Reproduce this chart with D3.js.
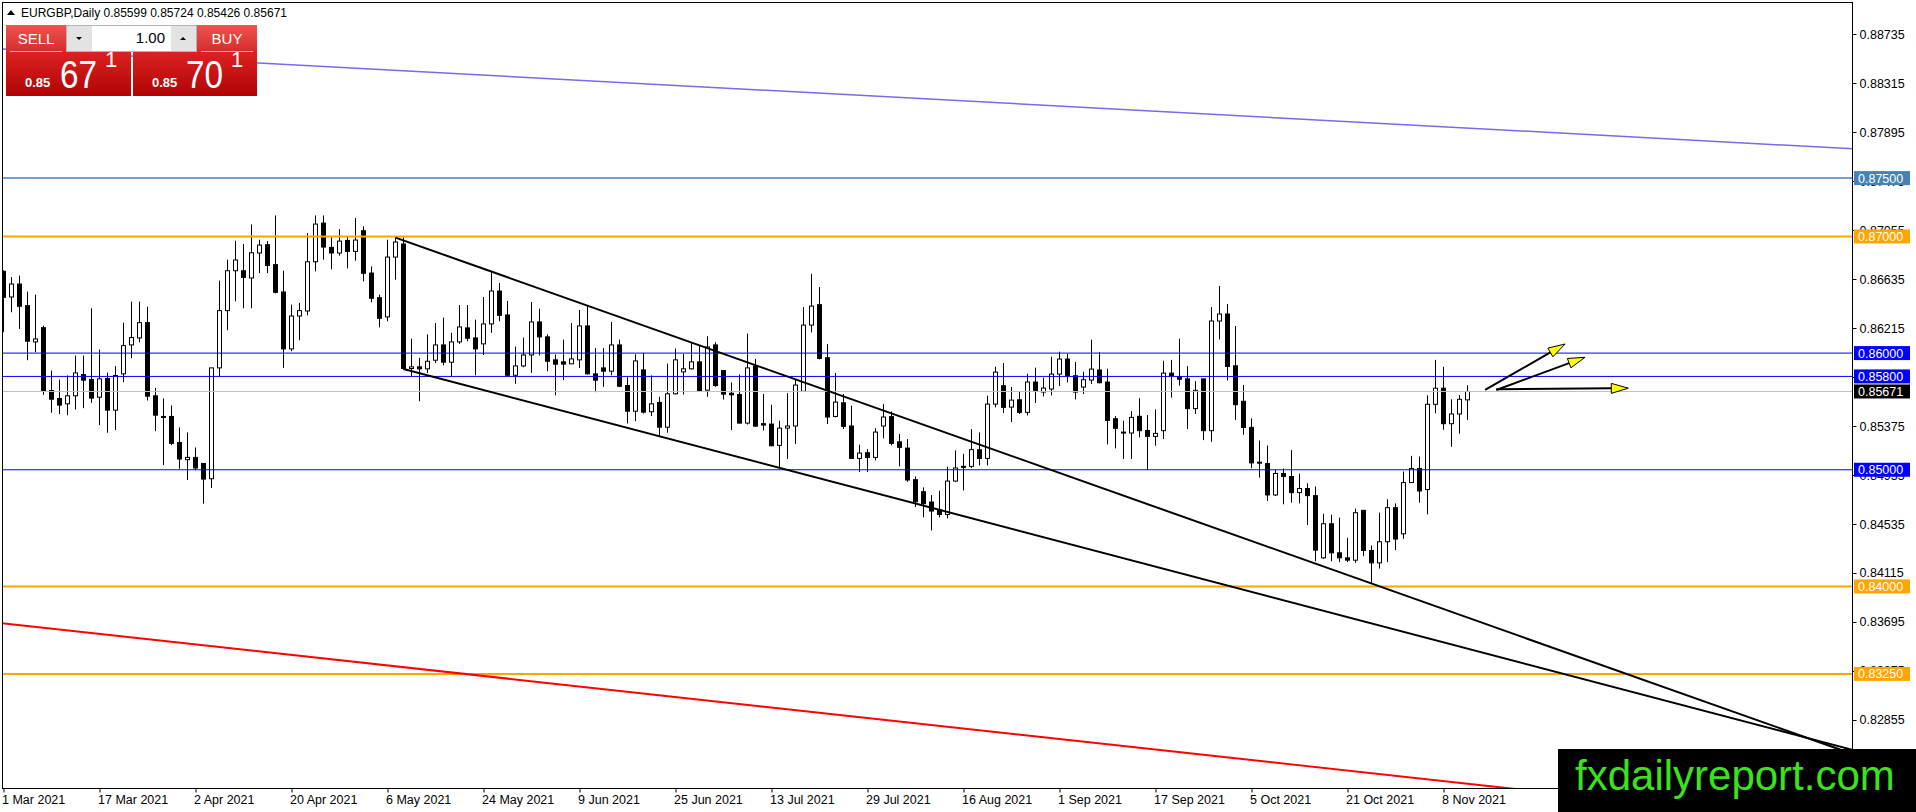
<!DOCTYPE html>
<html>
<head>
<meta charset="utf-8">
<script src="https://cdn.jsdelivr.net/npm/d3@7"></script>
<style>
  html, body { margin: 0; padding: 0; background: #fff; overflow: hidden; }
  svg { display: block; font-family: "Liberation Sans", Arial, sans-serif; }
</style>
</head>
<body>
<div id="chart"></div>
<script>
// EURGBP daily, 1 Mar 2021 .. 11 Nov 2021 (bar index 0 = 1 Mar)
const opens = [0.86701,0.86481,0.86592,0.86407,0.86096,0.86218,0.85679,0.85611,0.85565,0.85634,0.85816,0.85773,0.85622,0.85782,0.85511,0.85822,0.86070,0.86130,0.86261,0.85634,
  0.85457,0.85457,0.85234,0.85086,0.85106,0.85054,0.84923,0.85873,0.86364,0.86706,0.86706,0.86644,0.86858,0.86929,0.86758,0.86524,0.86036,0.86318,0.86361,0.86783,
  0.87114,0.86906,0.86858,0.86966,0.86872,0.87049,0.86686,0.86475,0.86310,0.86823,0.86935,0.85868,0.85882,0.85865,0.85939,0.86070,0.85922,0.86096,0.86216,0.86130,
  0.86079,0.86250,0.86532,0.86327,0.85810,0.85890,0.85984,0.86267,0.86139,0.85942,0.85925,0.85908,0.85942,0.86233,0.85822,0.85873,0.85845,0.86070,0.85722,0.85502,
  0.85856,0.85497,0.85577,0.85365,0.85651,0.85839,0.85865,0.85925,0.85682,0.86070,0.85850,0.85656,0.85645,0.85400,0.85888,0.85395,0.85392,0.85209,0.85357,0.85375,
  0.85672,0.86240,0.86415,0.85960,0.85457,0.85574,0.85375,0.85097,0.85146,0.85106,0.85375,0.85455,0.85240,0.85186,0.84915,0.84812,0.84723,0.84655,0.84617,0.84903,
  0.85029,0.85029,0.85172,0.85097,0.85563,0.85720,0.85537,0.85600,0.85492,0.85752,0.85666,0.85692,0.85820,0.85949,0.85806,0.85709,0.85769,0.85855,0.85752,0.85437,
  0.85323,0.85315,0.85458,0.85337,0.85286,0.85335,0.85828,0.85799,0.85779,0.85524,0.85779,0.85335,0.86275,0.86335,0.85891,0.85587,0.85363,0.85065,0.85053,0.84784,
  0.84968,0.84942,0.84804,0.84839,0.84778,0.84245,0.84537,0.84288,0.84245,0.84225,0.84652,0.84308,0.84202,0.84383,0.84675,0.84451,0.84890,0.85011,0.84830,0.85561,
  0.85699,0.85395,0.85478,0.85599];
const highs = [0.86710,0.86652,0.86664,0.86527,0.86501,0.86236,0.85850,0.85773,0.85808,0.85979,0.85979,0.86384,0.86030,0.85833,0.85888,0.86261,0.86441,0.86441,0.86398,0.85702,
  0.85611,0.85551,0.85363,0.85320,0.85191,0.85054,0.85873,0.86621,0.86801,0.86963,0.86935,0.87103,0.86972,0.86960,0.87180,0.86706,0.86415,0.86430,0.87029,0.87180,
  0.87180,0.86992,0.87063,0.87000,0.87157,0.87086,0.86743,0.86501,0.86972,0.86992,0.86992,0.86124,0.85959,0.86159,0.86258,0.86304,0.86173,0.86412,0.86412,0.86287,
  0.86481,0.86701,0.86601,0.86447,0.86056,0.86133,0.86438,0.86381,0.86161,0.85987,0.86116,0.86258,0.86370,0.86407,0.86044,0.86044,0.86267,0.86116,0.85793,0.85990,
  0.86002,0.85808,0.85625,0.85910,0.86039,0.85993,0.86087,0.86067,0.86144,0.86093,0.85850,0.85748,0.85816,0.86167,0.85950,0.85649,0.85557,0.85420,0.85657,0.85777,
  0.86395,0.86680,0.86566,0.86077,0.85829,0.85649,0.85549,0.85215,0.85177,0.85357,0.85563,0.85500,0.85306,0.85263,0.84943,0.84849,0.84783,0.84820,0.85026,0.85166,
  0.85137,0.85349,0.85320,0.85635,0.85883,0.85915,0.85709,0.85675,0.85823,0.85875,0.85789,0.85969,0.86012,0.85992,0.85923,0.85840,0.86115,0.86009,0.85866,0.85460,
  0.85420,0.85503,0.85613,0.85469,0.85518,0.85934,0.85942,0.86123,0.85888,0.85759,0.85779,0.86395,0.86576,0.86421,0.86232,0.85727,0.85441,0.85251,0.85208,0.84999,
  0.85011,0.85168,0.84968,0.84884,0.84856,0.84623,0.84615,0.84589,0.84417,0.84667,0.84652,0.84351,0.84632,0.84747,0.84712,0.84985,0.85119,0.85114,0.85638,0.85942,
  0.85882,0.85604,0.85641,0.85724];
const lows = [0.86179,0.86350,0.86207,0.85939,0.86007,0.85642,0.85488,0.85477,0.85468,0.85517,0.85528,0.85574,0.85383,0.85317,0.85340,0.85751,0.85956,0.86093,0.85594,0.85331,
  0.85040,0.85211,0.85009,0.84912,0.84995,0.84709,0.84843,0.85802,0.86196,0.86444,0.86384,0.86384,0.86686,0.86686,0.86512,0.85873,0.86016,0.86110,0.86324,0.86701,
  0.86801,0.86718,0.86835,0.86726,0.86792,0.86615,0.86435,0.86221,0.86273,0.86629,0.85859,0.85802,0.85588,0.85830,0.85916,0.85896,0.85802,0.86079,0.86102,0.85810,
  0.85984,0.86173,0.86273,0.85802,0.85736,0.85879,0.85830,0.85979,0.85845,0.85639,0.85768,0.85908,0.85873,0.85816,0.85665,0.85711,0.85810,0.85708,0.85397,0.85417,
  0.85482,0.85460,0.85288,0.85317,0.85645,0.85645,0.85859,0.85668,0.85625,0.85711,0.85602,0.85340,0.85397,0.85388,0.85368,0.85337,0.85200,0.85015,0.85092,0.85220,
  0.85666,0.86177,0.85946,0.85392,0.85449,0.85349,0.85092,0.84980,0.84980,0.85080,0.85269,0.85209,0.85029,0.84897,0.84680,0.84592,0.84480,0.84592,0.84583,0.84897,
  0.84823,0.85015,0.85037,0.85037,0.85535,0.85486,0.85409,0.85477,0.85466,0.85572,0.85629,0.85637,0.85717,0.85749,0.85603,0.85649,0.85735,0.85740,0.85217,0.85183,
  0.85092,0.85092,0.85277,0.84999,0.85206,0.85263,0.85618,0.85722,0.85349,0.85478,0.85254,0.85240,0.86117,0.85765,0.85426,0.85300,0.85013,0.84933,0.84732,0.84775,
  0.84704,0.84718,0.84712,0.84526,0.84216,0.84236,0.84216,0.84208,0.84208,0.84202,0.84259,0.84030,0.84153,0.84208,0.84311,0.84408,0.84890,0.84718,0.84618,0.85484,
  0.85343,0.85197,0.85309,0.85426];
const closes = [0.86478,0.86592,0.86401,0.86102,0.86121,0.85674,0.85605,0.85554,0.85634,0.85830,0.85768,0.85614,0.85779,0.85511,0.85808,0.86064,0.86133,0.86261,0.85631,0.85468,
  0.85454,0.85226,0.85092,0.85106,0.85015,0.84920,0.85873,0.86364,0.86706,0.86798,0.86649,0.86860,0.86926,0.86752,0.86521,0.86036,0.86318,0.86364,0.86783,0.87106,
  0.86909,0.86858,0.86960,0.86872,0.86969,0.86684,0.86470,0.86298,0.86823,0.86952,0.85868,0.85882,0.85865,0.85930,0.86070,0.85922,0.86096,0.86224,0.86127,0.86036,
  0.86250,0.86532,0.86324,0.85810,0.85890,0.85984,0.86267,0.86139,0.85930,0.85905,0.85905,0.85950,0.86233,0.85822,0.85768,0.85845,0.86070,0.85716,0.85502,0.85933,
  0.85494,0.85565,0.85365,0.85651,0.85942,0.85865,0.85925,0.85679,0.86053,0.85722,0.85648,0.85642,0.85400,0.85873,0.85374,0.85383,0.85206,0.85357,0.85375,0.85726,
  0.86240,0.86403,0.85955,0.85452,0.85580,0.85372,0.85097,0.85143,0.85106,0.85323,0.85452,0.85226,0.85192,0.84912,0.84726,0.84709,0.84646,0.84617,0.84903,0.85015,
  0.85023,0.85172,0.85097,0.85563,0.85837,0.85535,0.85597,0.85492,0.85752,0.85680,0.85700,0.85820,0.85949,0.85809,0.85666,0.85772,0.85863,0.85746,0.85423,0.85355,
  0.85317,0.85449,0.85335,0.85286,0.85312,0.85828,0.85808,0.85776,0.85524,0.85681,0.85335,0.86275,0.86335,0.85885,0.85558,0.85363,0.85059,0.85059,0.84784,0.84968,
  0.84942,0.84804,0.84839,0.84778,0.84311,0.84537,0.84288,0.84245,0.84225,0.84632,0.84308,0.84202,0.84383,0.84675,0.84406,0.84890,0.85011,0.84818,0.85561,0.85699,
  0.85395,0.85478,0.85604,0.85671];

const xTickBars = [0, 12, 24, 36, 48, 60, 72, 84, 96, 108, 120, 132, 144, 156, 168, 180];
const xTickLabels = ["1 Mar 2021", "17 Mar 2021", "2 Apr 2021", "20 Apr 2021", "6 May 2021", "24 May 2021",
  "9 Jun 2021", "25 Jun 2021", "13 Jul 2021", "29 Jul 2021", "16 Aug 2021", "1 Sep 2021",
  "17 Sep 2021", "5 Oct 2021", "21 Oct 2021", "8 Nov 2021"];
const yTickValues = [0.88735, 0.88315, 0.87895, 0.87475, 0.87055, 0.86635, 0.86215, 0.85795,
  0.85375, 0.84955, 0.84535, 0.84115, 0.83695, 0.83275, 0.82855, 0.82435];

// horizontal levels and their kind
const levelValues = [0.87500, 0.87000, 0.86000, 0.85800, 0.85000, 0.84000, 0.83250];
const levelKinds = ["steel", "orange", "blue", "blue", "blue", "orange", "orange"];
const bidPrice = 0.85671;

// trend lines as [bar, price] anchor pairs
const channelUpper = [[49, 0.86990], [180, 0.83806]];
const channelLower = [[50, 0.85864], [180, 0.83521]];
const purpleLine = [[0, 0.88605], [180, 0.87940]];
const redLine = [[0, 0.83683], [180, 0.82331]];
const arrowLines = [
  [[185.2, 0.85684], [195.2, 0.86078]],
  [[186.6, 0.85684], [197.7, 0.85964]],
  [[186.6, 0.85690], [203.1, 0.85699]]
];

const headerText = "EURGBP,Daily  0.85599 0.85724 0.85426 0.85671";

const W = 1916, H = 812;
const plotL = 2.5, plotR = 1852.5, plotT = 2.5, plotB = 788.5;

const svg = d3.select("#chart").append("svg")
    .attr("width", W)
    .attr("height", H);

const x = d3.scaleLinear()
    .domain([0, 183])
    .range([3.5, 3.5 + 8 * 183]);

const y = d3.scaleLinear()
    .domain([0.82272, 0.89001])
    .range([788, 3]);

const defs = svg.append("defs");
defs.append("clipPath").attr("id", "plot")
    .append("rect")
    .attr("x", plotL).attr("y", plotT)
    .attr("width", plotR - plotL).attr("height", plotB - plotT);

const gradTop = defs.append("linearGradient").attr("id", "redTop")
    .attr("x1", 0).attr("y1", 0).attr("x2", 0).attr("y2", 1);
gradTop.append("stop").attr("offset", "0%").attr("stop-color", "#ee5550");
gradTop.append("stop").attr("offset", "100%").attr("stop-color", "#d42a2a");
const gradLow = defs.append("linearGradient").attr("id", "redLow")
    .attr("x1", 0).attr("y1", 0).attr("x2", 0).attr("y2", 1);
gradLow.append("stop").attr("offset", "0%").attr("stop-color", "#dc2222");
gradLow.append("stop").attr("offset", "100%").attr("stop-color", "#b00404");

// axes
const yAxis = svg.append("g")
    .attr("transform", `translate(${plotR},0)`)
    .call(d3.axisRight(y).tickValues(yTickValues).tickSize(4).tickPadding(3)
        .tickFormat(d3.format(".5f")));
yAxis.select(".domain").remove();
yAxis.selectAll("text").style("font-size", "12.5px").attr("fill", "#000");

const xAxis = svg.append("g")
    .attr("transform", `translate(0,${plotB})`)
    .call(d3.axisBottom(x).tickValues(xTickBars).tickSize(4).tickPadding(3)
        .tickFormat((d, i) => xTickLabels[i]));
xAxis.select(".domain").remove();
xAxis.selectAll("text")
    .style("font-size", "12.5px")
    .attr("text-anchor", "start")
    .attr("dx", -2)
    .attr("fill", "#000");

const plot = svg.append("g").attr("clip-path", "url(#plot)");

// candles
const bars = d3.range(opens.length);
plot.selectAll(".wick")
    .data(bars)
    .enter().append("line")
    .attr("class", "wick")
    .attr("x1", i => x(i)).attr("x2", i => x(i))
    .attr("y1", i => y(highs[i])).attr("y2", i => y(lows[i]))
    .attr("stroke", "#000")
    .attr("stroke-width", 1);

plot.selectAll(".body")
    .data(bars)
    .enter().append("rect")
    .attr("class", "body")
    .attr("x", i => x(i) - 2)
    .attr("width", 4)
    .attr("y", i => y(Math.max(opens[i], closes[i])))
    .attr("height", i => Math.max(1, Math.abs(y(opens[i]) - y(closes[i]))))
    .attr("fill", i => closes[i] >= opens[i] ? "#fff" : "#000")
    .attr("stroke", "#000")
    .attr("stroke-width", 1);

// horizontal levels
const levelColor = { steel: "#4682b4", orange: "#ffa500", blue: "#0000ff" };
const levelWidth = { steel: 1.5, orange: 2, blue: 1 };

plot.append("line")
    .attr("x1", plotL).attr("x2", plotR)
    .attr("y1", y(bidPrice)).attr("y2", y(bidPrice))
    .attr("stroke", "#c0c0c0")
    .attr("stroke-width", 1);

levelValues.forEach((v, i) => {
    plot.append("line")
        .attr("x1", plotL).attr("x2", plotR)
        .attr("y1", y(v)).attr("y2", y(v))
        .attr("stroke", levelColor[levelKinds[i]])
        .attr("stroke-width", levelWidth[levelKinds[i]]);
});

// straight lines through two anchors, extended
function extend(pts, fromStart) {
    const x0 = x(pts[0][0]), y0 = y(pts[0][1]);
    const x1 = x(pts[1][0]), y1 = y(pts[1][1]);
    const k = (y1 - y0) / (x1 - x0);
    const xa = fromStart ? x0 : plotL - 5;
    const xb = plotR + 5;
    return [[xa, y0 + k * (xa - x0)], [xb, y0 + k * (xb - x0)]];
}
const lineGen = d3.line();

plot.append("path")
    .attr("d", lineGen(extend(purpleLine, false)))
    .attr("fill", "none").attr("stroke", "#7b68ee").attr("stroke-width", 1.5);
plot.append("path")
    .attr("d", lineGen(extend(redLine, false)))
    .attr("fill", "none").attr("stroke", "#ff0000").attr("stroke-width", 2);
[channelUpper, channelLower].forEach(c => {
    plot.append("path")
        .attr("d", lineGen(extend(c, true)))
        .attr("fill", "none").attr("stroke", "#000").attr("stroke-width", 2);
});

// arrows
arrowLines.forEach(a => {
    const x0 = x(a[0][0]), y0 = y(a[0][1]);
    const x1 = x(a[1][0]), y1 = y(a[1][1]);
    const ang = Math.atan2(y1 - y0, x1 - x0);
    const len = 17, half = 5;
    const bx = x1 - len * Math.cos(ang), by = y1 - len * Math.sin(ang);
    plot.append("line")
        .attr("x1", x0).attr("y1", y0).attr("x2", bx).attr("y2", by)
        .attr("stroke", "#000").attr("stroke-width", 2);
    plot.append("polygon")
        .attr("points", [
            [x1, y1],
            [bx + half * Math.sin(ang), by - half * Math.cos(ang)],
            [bx - half * Math.sin(ang), by + half * Math.cos(ang)]
        ].map(p => p.join(",")).join(" "))
        .attr("fill", "#ffff00")
        .attr("stroke", "#000")
        .attr("stroke-width", 1);
});

// frame
svg.append("rect")
    .attr("x", plotL).attr("y", plotT)
    .attr("width", plotR - plotL).attr("height", plotB - plotT)
    .attr("fill", "none").attr("stroke", "#000").attr("stroke-width", 1);

// price labels on the right axis
function priceTag(v, bg) {
    svg.append("rect")
        .attr("x", 1854).attr("y", y(v) - 7)
        .attr("width", 56).attr("height", 14)
        .attr("fill", bg);
    svg.append("text")
        .attr("x", 1858).attr("y", y(v) + 4.5)
        .style("font-size", "12.5px")
        .attr("fill", "#fff")
        .text(d3.format(".5f")(v));
}
levelValues.forEach((v, i) => priceTag(v, levelColor[levelKinds[i]]));
priceTag(bidPrice, "#000");

// header line
svg.append("path")
    .attr("d", "M7,15 L11,10 L15,15 Z")
    .attr("fill", "#000");
svg.append("text")
    .attr("x", 21).attr("y", 17)
    .style("font-size", "12px")
    .attr("fill", "#000")
    .text(headerText);

// one-click trading panel
const panel = svg.append("g");
panel.append("rect").attr("x", 6).attr("y", 25).attr("width", 60).attr("height", 28).attr("fill", "url(#redTop)");
panel.append("rect").attr("x", 197).attr("y", 25).attr("width", 60).attr("height", 28).attr("fill", "url(#redTop)");
panel.append("rect").attr("x", 6).attr("y", 52).attr("width", 125).attr("height", 44).attr("fill", "url(#redLow)");
panel.append("rect").attr("x", 133).attr("y", 52).attr("width", 124).attr("height", 44).attr("fill", "url(#redLow)");
panel.append("line").attr("x1", 10).attr("x2", 62).attr("y1", 51.5).attr("y2", 51.5).attr("stroke", "#f3a4a4");
panel.append("line").attr("x1", 201).attr("x2", 253).attr("y1", 51.5).attr("y2", 51.5).attr("stroke", "#f3a4a4");

panel.append("rect").attr("x", 66.5).attr("y", 25.5).attr("width", 130).attr("height", 26)
    .attr("fill", "#fff").attr("stroke", "#b4b4b4");
panel.append("rect").attr("x", 67).attr("y", 26).attr("width", 25).attr("height", 25).attr("fill", "#e3e3e3");
panel.append("rect").attr("x", 171).attr("y", 26).attr("width", 25).attr("height", 25).attr("fill", "#e3e3e3");
panel.append("path").attr("d", "M76,37 L82,37 L79,40 Z").attr("fill", "#000");
panel.append("path").attr("d", "M180,40 L186,40 L183,37 Z").attr("fill", "#000");

panel.append("text").attr("x", 36).attr("y", 44).attr("text-anchor", "middle")
    .style("font-size", "15px").attr("fill", "#fff").text("SELL");
panel.append("text").attr("x", 227).attr("y", 44).attr("text-anchor", "middle")
    .style("font-size", "15px").attr("fill", "#fff").text("BUY");
panel.append("text").attr("x", 165).attr("y", 43).attr("text-anchor", "end")
    .style("font-size", "15px").attr("fill", "#000").text("1.00");

[[25, 60, 105, "67"], [152, 186, 231, "70"]].forEach(q => {
    panel.append("text").attr("x", q[0]).attr("y", 87)
        .style("font-size", "13px").style("font-weight", "bold").attr("fill", "#fff").text("0.85");
    panel.append("text").attr("x", q[1]).attr("y", 88)
        .style("font-size", "39px").attr("textLength", 37).attr("lengthAdjust", "spacingAndGlyphs")
        .attr("fill", "#fff").text(q[3]);
    panel.append("text").attr("x", q[2]).attr("y", 67)
        .style("font-size", "22px").attr("fill", "#fff").text("1");
});

// watermark
svg.append("rect")
    .attr("x", 1558).attr("y", 749)
    .attr("width", W - 1558).attr("height", H - 749)
    .attr("fill", "#000");
svg.append("text")
    .attr("x", 1575).attr("y", 790)
    .style("font-size", "42px")
    .attr("fill", "#3ce21c")
    .text("fxdailyreport.com");
</script>
</body>
</html>
